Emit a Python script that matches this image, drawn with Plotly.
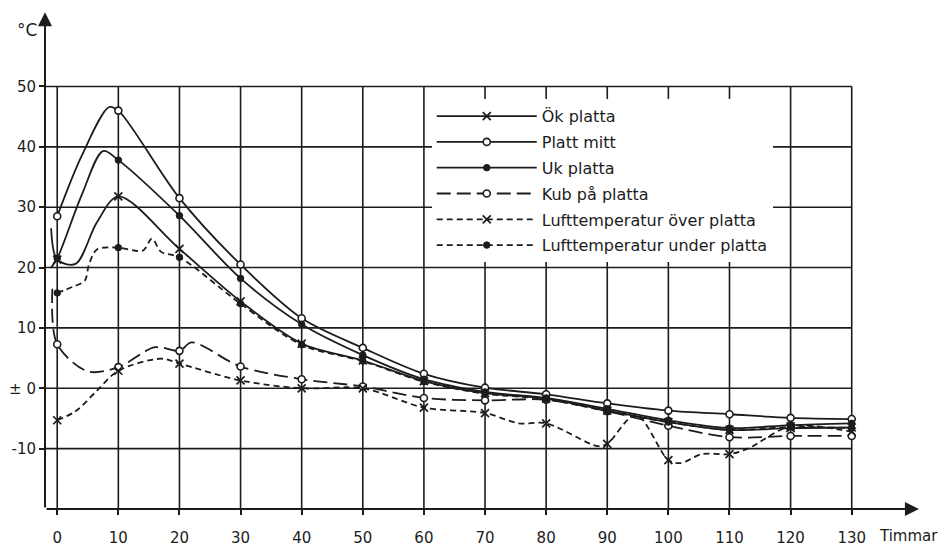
import plotly.graph_objects as go

# ---------------- data (hours, °C) ----------------
hours_platt_mitt = [0, 4, 8.5, 10, 20, 30, 40, 50, 60, 70, 80, 90, 100, 110, 120, 130]
temp_platt_mitt = [28.5, 38.5, 46.6, 46.0, 31.5, 20.5, 11.6, 6.7, 2.4, 0.1, -1.0, -2.5, -3.7, -4.3, -4.9, -5.1]

hours_uk_platta = [-1, 0, 4, 7.5, 10, 20, 30, 40, 50, 60, 70, 80, 90, 100, 110, 120, 130]
temp_uk_platta = [20.0, 21.5, 32.0, 39.3, 37.8, 28.6, 18.2, 10.6, 5.5, 1.5, -0.6, -1.6, -3.4, -5.3, -6.6, -6.1, -5.8]

hours_ok_platta = [-1, 0, 3, 6.5, 10, 20, 30, 40, 50, 60, 70, 80, 90, 100, 110, 120, 130]
temp_ok_platta = [26.5, 21.3, 20.6, 27.5, 31.8, 23.1, 14.4, 7.4, 4.6, 1.2, -0.8, -1.7, -3.7, -5.6, -6.9, -6.6, -6.5]

hours_kub = [-0.8, 0, 5, 10, 16, 20, 22, 30, 40, 50, 60, 70, 80, 90, 100, 110, 120, 130]
temp_kub = [16.5, 7.3, 2.8, 3.5, 6.8, 6.2, 7.6, 3.6, 1.5, 0.3, -1.6, -2.0, -1.9, -3.8, -6.2, -8.1, -7.9, -7.9]

hours_luft_over = [0, 3, 6.5, 10, 17, 20, 30, 40, 50, 60, 70, 75.5, 80, 88.5, 90, 94.7, 100, 102, 105.5, 110, 113, 120, 130]
temp_luft_over = [-5.3, -3.8, -0.4, 2.9, 4.9, 4.1, 1.3, 0.0, 0.0, -3.2, -4.1, -5.8, -5.8, -9.6, -9.2, -4.4, -11.9, -12.4, -10.9, -10.9, -10.0, -6.3, -7.2]

hours_luft_under = [0, 2.5, 4.5, 5.2, 6.5, 10, 14, 15.5, 17, 20, 30, 40, 50, 60, 70, 80, 90, 100, 110, 120, 130]
temp_luft_under = [15.8, 16.8, 17.8, 20.5, 23.0, 23.3, 22.8, 24.8, 22.6, 21.7, 14.0, 7.2, 4.5, 1.1, -0.9, -1.8, -3.8, -5.6, -6.9, -6.4, -6.6]

x_ticks = [0, 10, 20, 30, 40, 50, 60, 70, 80, 90, 100, 110, 120, 130]
y_ticks = [-10, 0, 10, 20, 30, 40, 50]
y_ticktext = ["-10", "± 0", "10", "20", "30", "40", "50"]

INK = "#1c1c1c"
FONT = "DejaVu Sans"
LW = 1.8

series = [
    ("Ök platta", hours_ok_platta, temp_ok_platta, "solid",
     dict(symbol="x-thin-open", size=8, color=INK, line=dict(color=INK, width=1.7))),
    ("Platt mitt", hours_platt_mitt, temp_platt_mitt, "solid",
     dict(symbol="circle", size=7, color="white", line=dict(color=INK, width=1.6))),
    ("Uk platta", hours_uk_platta, temp_uk_platta, "solid",
     dict(symbol="circle", size=6.5, color=INK, line=dict(color=INK, width=1))),
    ("Kub på platta", hours_kub, temp_kub, "14px,6px",
     dict(symbol="circle", size=7, color="white", line=dict(color=INK, width=1.6))),
    ("Lufttemperatur över platta", hours_luft_over, temp_luft_over, "6px,4px",
     dict(symbol="x-thin-open", size=8, color=INK, line=dict(color=INK, width=1.7))),
    ("Lufttemperatur under platta", hours_luft_under, temp_luft_under, "6px,4px",
     dict(symbol="circle", size=6.5, color=INK, line=dict(color=INK, width=1))),
]

fig = go.Figure()
for i, (name, xs, ys, dash, mk) in enumerate(series):
    grp = f"g{i}"
    fig.add_trace(go.Scatter(
        x=xs, y=ys, mode="lines", line=dict(color=INK, width=LW, dash=dash, shape="spline", smoothing=0.9),
        showlegend=False, legendgroup=grp, hoverinfo="skip"))
    mx = [x for x in xs if x >= 0 and x % 10 == 0]
    my = [y for x, y in zip(xs, ys) if x >= 0 and x % 10 == 0]
    fig.add_trace(go.Scatter(x=mx, y=my, mode="markers", marker=mk,
                             showlegend=False, legendgroup=grp))
    fig.add_trace(go.Scatter(x=[None], y=[None], mode="lines+markers", name=name,
                             line=dict(color=INK, width=LW, dash=dash), marker=mk,
                             legendgroup=grp, showlegend=True))

# grid
shapes = []
for xv in x_ticks:
    shapes.append(dict(type="line", xref="x", yref="y", x0=xv, x1=xv, y0=-20, y1=50,
                       line=dict(color=INK, width=1.6), layer="below"))
for yv in y_ticks:
    shapes.append(dict(type="line", xref="x", yref="y", x0=-2, x1=130, y0=yv, y1=yv,
                       line=dict(color=INK, width=1.6), layer="below"))

annotations = [
    # axis arrows
    dict(x=-2, y=62.3, ax=-2, ay=-20, xref="x", yref="y", axref="x", ayref="y",
         text="", showarrow=True, arrowhead=2, arrowsize=1.4, arrowwidth=2, arrowcolor=INK),
    dict(x=141, y=-20, ax=-2, ay=-20, xref="x", yref="y", axref="x", ayref="y",
         text="", showarrow=True, arrowhead=2, arrowsize=1.4, arrowwidth=2, arrowcolor=INK),
    dict(x=-0.021, y=0.957, xref="paper", yref="paper", text="°C", showarrow=False,
         xanchor="center", yanchor="middle",
         font=dict(family=FONT, size=17, color=INK)),
    dict(x=134.2, y=-20, xref="x", yref="y", text="Timmar", showarrow=False,
         xanchor="left", yanchor="middle", yshift=-27,
         font=dict(family=FONT, size=15, color=INK)),
]

fig.update_layout(
    width=948, height=547,
    margin=dict(l=45, r=26, t=8, b=38, autoexpand=False),
    paper_bgcolor="white", plot_bgcolor="white",
    font=dict(family=FONT, size=15, color=INK),
    shapes=shapes, annotations=annotations,
    showlegend=True,
    legend=dict(x=0.441, y=0.818, xanchor="left", yanchor="top",
                bgcolor="white", borderwidth=0, itemwidth=100,
                traceorder="grouped", tracegroupgap=2,
                font=dict(family=FONT, size=16, color=INK)),
    xaxis=dict(range=[-2, 141.5], showgrid=False, zeroline=False, showline=False,
               automargin=False,
               tickmode="array", tickvals=x_ticks, ticktext=[str(v) for v in x_ticks],
               ticks="outside", ticklen=5, tickwidth=1.6, tickcolor=INK,
               ticklabelstandoff=10, tickfont=dict(family=FONT, size=15, color=INK)),
    yaxis=dict(range=[-20, 63], showgrid=False, zeroline=False, showline=False,
               automargin=False,
               tickmode="array", tickvals=y_ticks, ticktext=y_ticktext,
               ticks="outside", ticklen=5, tickwidth=1.6, tickcolor=INK,
               tickfont=dict(family=FONT, size=15, color=INK)),
)

fig.write_html("out.html")
